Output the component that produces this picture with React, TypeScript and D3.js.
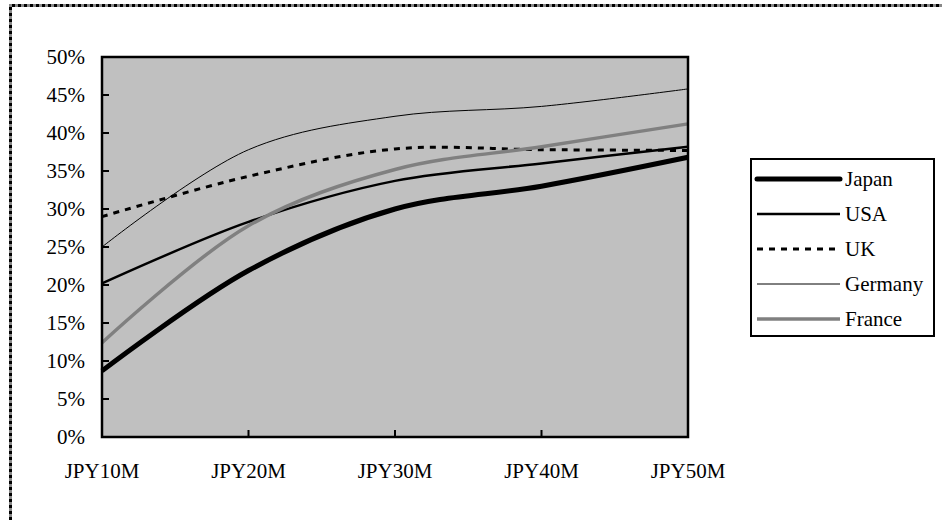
import * as d3 from 'd3';
import * as React from 'react';

const categories = ['JPY10M', 'JPY20M', 'JPY30M', 'JPY40M', 'JPY50M'];
const yTicks = [0, 5, 10, 15, 20, 25, 30, 35, 40, 45, 50];

const japan = [8.7, 21.9, 30.0, 33.0, 36.8];
const usa = [20.2, 28.3, 33.7, 36.0, 38.2];
const uk = [29.0, 34.3, 37.9, 37.8, 37.7];
const germany = [25.0, 37.8, 42.2, 43.5, 45.8];
const france = [12.4, 27.8, 35.2, 38.2, 41.2];

const seriesNames = ['Japan', 'USA', 'UK', 'Germany', 'France'];
const seriesValues = [japan, usa, uk, germany, france];

const styles: { [k: string]: { stroke: string; width: number; dash?: string } } = {
  Japan: { stroke: '#000', width: 5 },
  USA: { stroke: '#000', width: 2.5 },
  UK: { stroke: '#000', width: 3, dash: '6,6' },
  Germany: { stroke: '#000', width: 1 },
  France: { stroke: '#808080', width: 3.5 },
};

const W = 942;
const H = 520;
const plot = { left: 102, right: 688, top: 57, bottom: 437 };
const font = '"Liberation Serif", "Times New Roman", serif';

export default function App() {
  const x = d3.scalePoint<string>().domain(categories).range([plot.left, plot.right]);
  const y = d3.scaleLinear().domain([0, 50]).range([plot.bottom, plot.top]);

  const line = d3
    .line<number>()
    .x((_, i) => x(categories[i]) as number)
    .y((d) => y(d))
    .curve(d3.curveCatmullRom.alpha(0.5));

  const legend = { x: 751, y: 159, w: 183, h: 177 };
  const rowH = 35;

  return (
    <div style={{ position: 'absolute', left: 0, top: 0 }}>
      <svg width={W} height={H} style={{ display: 'block' }}>
        <rect x={0} y={0} width={W} height={H} fill="#fff" />
        {/* dotted outer frame */}
        <path d={`M10.5,${H} V5.5 H${W}`} fill="none" stroke="#888" strokeWidth={3} />
        <path d={`M10.5,${H} V5.5 H${W}`} fill="none" stroke="#000" strokeWidth={3} strokeDasharray="3,3" />

        <rect
          x={plot.left}
          y={plot.top}
          width={plot.right - plot.left}
          height={plot.bottom - plot.top}
          fill="#c0c0c0"
        />

        {seriesNames.map((name, i) => {
          const s = styles[name];
          return (
            <path
              key={name}
              d={line(seriesValues[i]) || ''}
              fill="none"
              stroke={s.stroke}
              strokeWidth={s.width}
              strokeDasharray={s.dash}
              strokeLinejoin="round"
            />
          );
        })}

        <rect
          x={plot.left}
          y={plot.top}
          width={plot.right - plot.left}
          height={plot.bottom - plot.top}
          fill="none"
          stroke="#000"
          strokeWidth={2.5}
        />

        {yTicks.map((t) => (
          <g key={t}>
            <line x1={plot.left} x2={plot.left + 7} y1={y(t)} y2={y(t)} stroke="#000" strokeWidth={2} />
            <text
              x={85}
              y={y(t)}
              dy="0.35em"
              textAnchor="end"
              fontFamily={font}
              fontSize={21}
            >
              {t}%
            </text>
          </g>
        ))}

        {categories.map((c) => (
          <g key={c}>
            <line
              x1={x(c)}
              x2={x(c)}
              y1={plot.bottom}
              y2={plot.bottom - 7}
              stroke="#000"
              strokeWidth={2}
            />
            <text x={x(c)} y={478} textAnchor="middle" fontFamily={font} fontSize={21}>
              {c}
            </text>
          </g>
        ))}

        <rect
          x={legend.x}
          y={legend.y}
          width={legend.w}
          height={legend.h}
          fill="#fff"
          stroke="#000"
          strokeWidth={2}
        />
        {seriesNames.map((name, i) => {
          const s = styles[name];
          const cy = legend.y + 20 + i * rowH;
          return (
            <g key={name}>
              <line
                x1={757}
                x2={840}
                y1={cy}
                y2={cy}
                stroke={s.stroke}
                strokeWidth={s.width}
                strokeDasharray={s.dash}
                strokeLinecap={name === 'Japan' ? 'round' : 'butt'}
              />
              <text x={845} y={cy} dy="0.35em" fontFamily={font} fontSize={21}>
                {name}
              </text>
            </g>
          );
        })}
      </svg>
    </div>
  );
}
